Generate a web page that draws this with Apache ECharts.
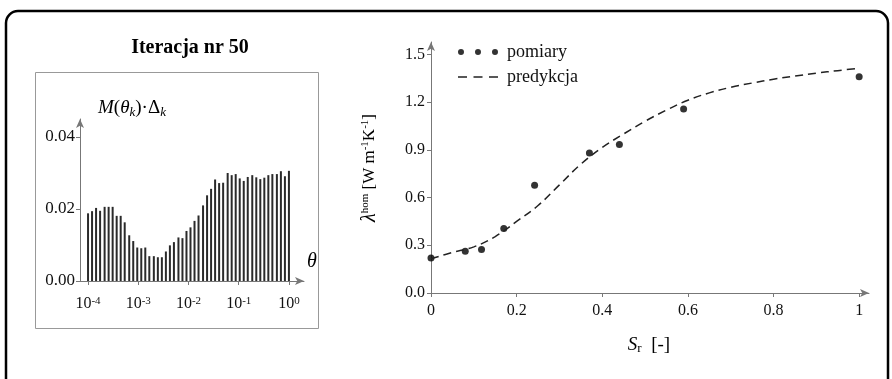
<!DOCTYPE html>
<html>
<head>
<meta charset="utf-8">
<script src="https://cdn.jsdelivr.net/npm/echarts@6/dist/echarts.min.js"></script>
<style>
html,body{margin:0;padding:0;background:#fff;}
#c{width:892px;height:379px;}
</style>
</head>
<body>
<div id="c"></div>
<script>
// ---- data ----
const thetaExp = [-4.00,-3.92,-3.84,-3.76,-3.67,-3.59,-3.51,-3.43,-3.35,-3.27,
  -3.18,-3.10,-3.02,-2.94,-2.86,-2.78,-2.69,-2.61,-2.53,-2.45,
  -2.37,-2.29,-2.20,-2.12,-2.04,-1.96,-1.88,-1.80,-1.71,-1.63,
  -1.55,-1.47,-1.39,-1.31,-1.22,-1.14,-1.06,-0.98,-0.90,-0.82,
  -0.73,-0.65,-0.57,-0.49,-0.41,-0.33,-0.24,-0.16,-0.08,0.00];
const mDelta = [0.0188,0.0194,0.0203,0.0195,0.0206,0.0206,0.0206,0.0181,0.0181,0.0163,
  0.0127,0.0111,0.0093,0.0091,0.0093,0.0069,0.0069,0.0066,0.0066,0.0082,
  0.0099,0.0108,0.0121,0.0119,0.0139,0.0149,0.0167,0.0182,0.0210,0.0238,
  0.0256,0.0282,0.0272,0.0273,0.0300,0.0294,0.0297,0.0285,0.0278,0.0289,
  0.0294,0.0288,0.0283,0.0287,0.0294,0.0297,0.0297,0.0305,0.0291,0.0306];
const leftXTicks = [-4,-3,-2,-1,0];
const leftYTicks = [0,0.02,0.04];

const srMeas = [0,0.08,0.118,0.17,0.242,0.37,0.44,0.59,1.0];
const lambdaMeas = [0.22,0.262,0.273,0.405,0.677,0.88,0.933,1.157,1.36];
const srPred = [0,0.05,0.1,0.15,0.2,0.25,0.3,0.35,0.4,0.45,0.5,0.55,0.6,0.65,0.7,0.75,0.8,0.85,0.9,0.95,1.0];
const lambdaPred = [0.215,0.255,0.29,0.355,0.45,0.55,0.68,0.81,0.915,1.0,1.08,1.15,1.212,1.258,1.293,1.32,1.344,1.364,1.382,1.398,1.413];
const rightXTicks = [0,0.2,0.4,0.6,0.8,1];
const rightYTicks = [0,0.3,0.6,0.9,1.2,1.5];

// ---- chart ----
const SERIF = '"Liberation Serif","DejaVu Serif",serif';
const AX = '#777';
const TXT = '#111';

const chart = echarts.init(document.getElementById('c'));

const option = {
  animation: false,
  backgroundColor: '#fff',
  textStyle: {fontFamily: SERIF},
  grid: [
    {left: 80, top: 119, width: 224, height: 162},
    {left: 431, top: 42, width: 438, height: 251}
  ],
  xAxis: [
    {
      gridIndex: 0, type: 'value', min: -4.16, max: 0.3,
      splitLine: {show: false},
      axisLine: {onZero: false, lineStyle: {color: AX, width: 1}, symbol: ['none','arrow'], symbolSize: [6,9]},
      axisTick: {customValues: leftXTicks, length: 4, lineStyle: {color: AX}},
      axisLabel: {
        customValues: leftXTicks, margin: 15, color: TXT,
        formatter: v => '{b|10}{s|' + (v === 0 ? '0' : String(v)) + '}',
        rich: {
          b: {fontSize: 16, fontFamily: SERIF, color: TXT},
          s: {fontSize: 11, fontFamily: SERIF, color: TXT, verticalAlign: 'top', lineHeight: 10}
        }
      }
    },
    {
      gridIndex: 1, type: 'value', min: 0, max: 1.023,
      splitLine: {show: false},
      axisLine: {onZero: false, lineStyle: {color: AX, width: 1}, symbol: ['none','arrow'], symbolSize: [6,9]},
      axisTick: {customValues: rightXTicks, length: 4, lineStyle: {color: AX}},
      axisLabel: {customValues: rightXTicks, margin: 10, color: TXT, fontSize: 16, fontFamily: SERIF,
        formatter: v => String(v)}
    }
  ],
  yAxis: [
    {
      gridIndex: 0, type: 'value', min: 0, max: 0.045,
      splitLine: {show: false},
      axisLine: {show: true, onZero: false, lineStyle: {color: AX, width: 1}, symbol: ['none','arrow'], symbolSize: [6,9]},
      axisTick: {show: true, customValues: leftYTicks, length: 4, lineStyle: {color: AX}},
      axisLabel: {customValues: leftYTicks, margin: 5, color: TXT, fontSize: 17, fontFamily: SERIF,
        formatter: v => v.toFixed(2)}
    },
    {
      gridIndex: 1, type: 'value', min: 0, max: 1.578,
      splitLine: {show: false},
      axisLine: {show: true, onZero: false, lineStyle: {color: AX, width: 1}, symbol: ['none','arrow'], symbolSize: [6,9]},
      axisTick: {show: true, customValues: rightYTicks, length: 4, lineStyle: {color: AX}},
      axisLabel: {customValues: rightYTicks, margin: 6, color: TXT, fontSize: 16, fontFamily: SERIF,
        formatter: v => v.toFixed(1)}
    }
  ],
  legend: {
    orient: 'vertical', left: 453, top: 38, itemWidth: 40, itemHeight: 10, itemGap: 7,
    textStyle: {fontFamily: SERIF, fontSize: 18, color: TXT, padding: [0,0,0,4]},
    data: [
      {name: 'pomiary', icon: 'path://M0,3a3,3 0 1,0 6,0a3,3 0 1,0 -6,0zM17,3a3,3 0 1,0 6,0a3,3 0 1,0 -6,0zM34,3a3,3 0 1,0 6,0a3,3 0 1,0 -6,0z', itemStyle: {color: '#000'}},
      {name: 'predykcja', icon: 'path://M0,0h9v1.6h-9zM15.5,0h9v1.6h-9zM31,0h9v1.6h-9z', itemStyle: {color: '#222'}}
    ]
  },
  series: [
    {
      type: 'bar', xAxisIndex: 0, yAxisIndex: 0, barWidth: 2,
      itemStyle: {color: '#2a2a2a'},
      data: thetaExp.map((t, i) => [t, mDelta[i]])
    },
    {
      name: 'predykcja', type: 'line', xAxisIndex: 1, yAxisIndex: 1,
      smooth: 0.4, showSymbol: false, symbol: 'none',
      lineStyle: {color: '#222', width: 1.5, type: [8,5]},
      itemStyle: {color: '#222'},
      data: srPred.map((x, i) => [x, lambdaPred[i]])
    },
    {
      name: 'pomiary', type: 'scatter', xAxisIndex: 1, yAxisIndex: 1,
      symbolSize: 7, clip: false,
      itemStyle: {color: '#000'},
      data: srMeas.map((x, i) => [x, lambdaMeas[i]])
    }
  ],
  graphic: [
    {type: 'rect', shape: {x: 6, y: 11, width: 882, height: 400, r: 12},
      style: {fill: 'none', stroke: '#000', lineWidth: 2.5}, silent: true},
    {type: 'rect', shape: {x: 35.5, y: 72.5, width: 283, height: 256},
      style: {fill: 'none', stroke: '#999', lineWidth: 1}, silent: true},
    {type: 'text', x: 190, y: 48, style: {text: 'Iteracja nr 50', font: 'bold 20px ' + SERIF,
      fill: '#000', align: 'center', verticalAlign: 'middle'}},
    {type: 'text', x: 98, y: 108, style: {
      text: '{i|M}{r|(}{i|θ}{sub|k}{r|)·Δ}{sub|k}', align: 'left', verticalAlign: 'middle',
      rich: {
        i: {fontFamily: SERIF, fontStyle: 'italic', fontSize: 19, fill: '#000', color: '#000'},
        r: {fontFamily: SERIF, fontSize: 19, fill: '#000', color: '#000'},
        sub: {fontFamily: SERIF, fontStyle: 'italic', fontSize: 13, fill: '#000', color: '#000', verticalAlign: 'bottom', padding: [10,0,0,0]}
      }}},
    {type: 'text', x: 307, y: 262, style: {text: 'θ', font: 'italic 20px ' + SERIF, fill: '#000',
      align: 'left', verticalAlign: 'middle'}},
    {type: 'text', x: 370, y: 168, rotation: Math.PI / 2, style: {
      text: '{l|λ}{sup|hom}{r| [W m}{sup|-1}{r|K}{sup|-1}{r|]}', align: 'center', verticalAlign: 'middle',
      rich: {
        l: {fontFamily: SERIF, fontStyle: 'italic', fontSize: 20, fill: '#000', color: '#000'},
        r: {fontFamily: SERIF, fontSize: 17, fill: '#000', color: '#000'},
        sup: {fontFamily: SERIF, fontSize: 11, fill: '#000', color: '#000', verticalAlign: 'top', padding: [0,0,8,0]}
      }}},
    {type: 'text', x: 649, y: 345, style: {
      text: '{i|S}{sub|r}{r|  [-]}', align: 'center', verticalAlign: 'middle',
      rich: {
        i: {fontFamily: SERIF, fontStyle: 'italic', fontSize: 19, fill: '#000', color: '#000'},
        r: {fontFamily: SERIF, fontSize: 19, fill: '#000', color: '#000'},
        sub: {fontFamily: SERIF, fontSize: 13, fill: '#000', color: '#000', verticalAlign: 'bottom', padding: [8,0,0,0]}
      }}}
  ]
};
chart.setOption(option);
</script>
</body>
</html>
